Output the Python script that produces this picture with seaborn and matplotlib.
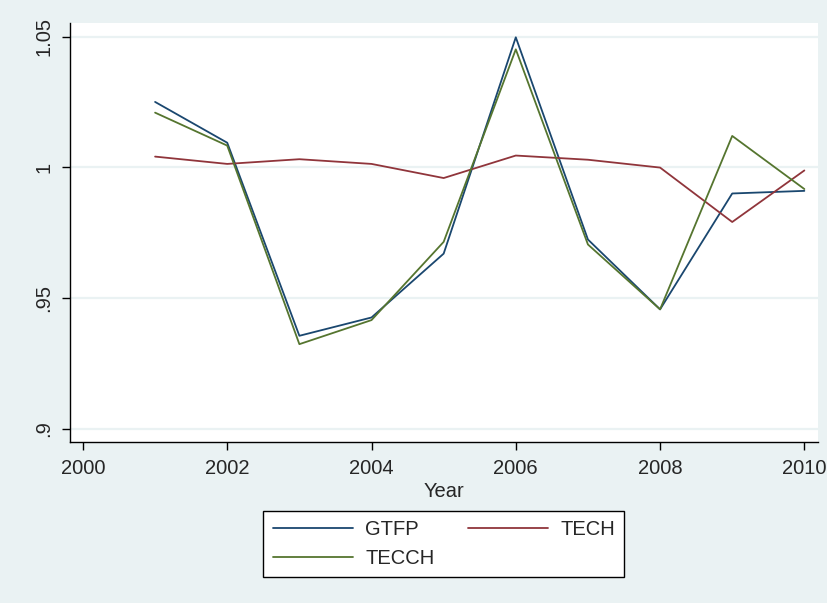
import pandas as pd
import seaborn as sns
import matplotlib.pyplot as plt

# values
years = [2001, 2002, 2003, 2004, 2005, 2006, 2007, 2008, 2009, 2010]
gtfp = [1.0250, 1.0094, 0.9356, 0.9426, 0.9670, 1.0497, 0.9724, 0.9457, 0.9900, 0.9910]
tech = [1.0041, 1.0013, 1.0031, 1.0013, 0.9959, 1.0045, 1.0029, 0.9999, 0.9791, 0.9988]
tecch = [1.0209, 1.0083, 0.9324, 0.9416, 0.9715, 1.0451, 0.9705, 0.9457, 1.0120, 0.9917]
series_names = ["GTFP", "TECH", "TECCH"]
colors = {"GTFP": "#1a476f", "TECH": "#90353b", "TECCH": "#55752f"}
y_ticks = [0.9, 0.95, 1.0, 1.05]
y_ticklabels = [".9", ".95", "1", "1.05"]
x_ticks = [2000, 2002, 2004, 2006, 2008, 2010]

df = pd.DataFrame({
    "Year": years * 3,
    "value": gtfp + tech + tecch,
    "series": ["GTFP"] * len(years) + ["TECH"] * len(years) + ["TECCH"] * len(years),
})

sns.set_style("white")
plt.rcParams["font.family"] = ["Liberation Sans", "DejaVu Sans"]

bg = "#eaf2f3"
fs = 14.5
fig = plt.figure(figsize=(8.28, 6.03), dpi=100, facecolor=bg)
ax = fig.add_axes([0.0845, 0.267, 0.9035, 0.695])
ax.set_facecolor("white")

sns.lineplot(data=df, x="Year", y="value", hue="series", hue_order=series_names,
             palette=colors, linewidth=1.3, ax=ax, legend=True)

ax.set_xlim(1999.82, 2010.19)
ax.set_ylim(0.895, 1.0552)
ax.set_xticks(x_ticks)
ax.set_xticklabels([str(x) for x in x_ticks], fontsize=fs)
ax.set_yticks(y_ticks)
ax.set_yticklabels(y_ticklabels, fontsize=fs, rotation=90, va="center")
ax.set_xlabel("Year", fontsize=fs, labelpad=3)
ax.set_ylabel("")

for y in y_ticks:
    ax.axhline(y, color=bg, linewidth=1.6, zorder=0)

for side in ["top", "right"]:
    ax.spines[side].set_visible(False)
for side in ["left", "bottom"]:
    ax.spines[side].set_color("black")
    ax.spines[side].set_linewidth(1.0)
ax.tick_params(axis="both", direction="out", length=6, width=1, color="black",
               left=True, bottom=True, pad=6)

handles, labels = ax.get_legend_handles_labels()
ax.get_legend().remove()
lookup = dict(zip(labels, handles))
order = ["GTFP", "TECCH", "TECH"]
leg = fig.legend([lookup[k] for k in order], order, loc="upper center",
                 bbox_to_anchor=(0.536, 0.1526), ncol=2, fontsize=fs,
                 frameon=True, fancybox=False, framealpha=1, edgecolor="black",
                 handlelength=4, handletextpad=0.6, columnspacing=1.65,
                 borderpad=0.45, labelspacing=0.5, borderaxespad=0)
leg.get_frame().set_linewidth(1.0)

fig.savefig("out.png", dpi=100, facecolor=bg)
plt.close(fig)
